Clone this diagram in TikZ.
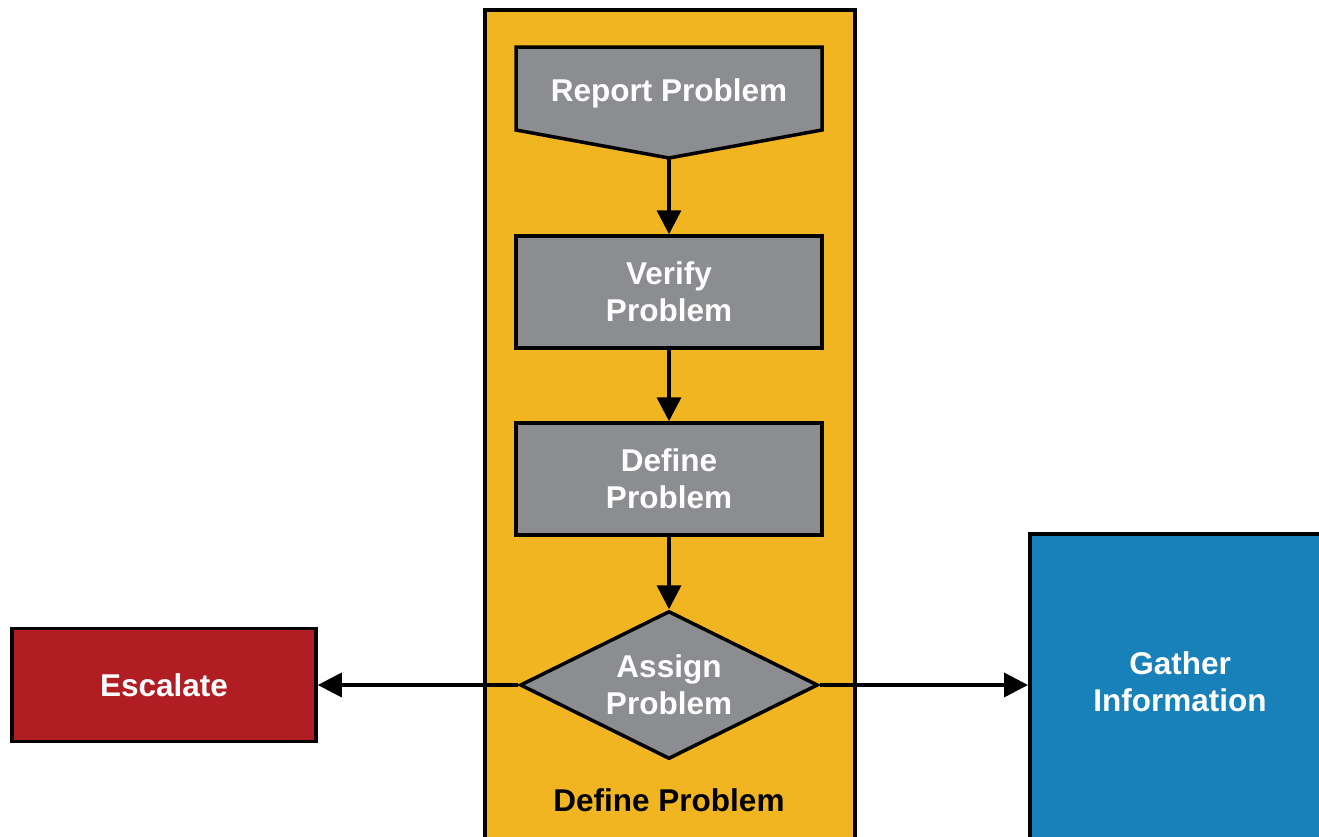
\documentclass[tikz,border=0pt]{standalone}
\usepackage{fontspec}
\setmainfont{Liberation Sans}
\usetikzlibrary{shapes.geometric,arrows.meta}
\definecolor{panelyellow}{HTML}{F0B521}
\definecolor{stepgray}{HTML}{8C8D91}
\definecolor{escred}{HTML}{B01E24}
\definecolor{gatherblue}{HTML}{1981BA}
\tikzset{
  edge/.style={draw=black, line width=3.5pt},
  stepbox/.style={draw=black, line width=3.5pt, fill=stepgray, minimum width=306pt, minimum height=112pt, inner sep=0pt},
  whitetxt/.style={text=white, font=\fontsize{31.5}{37}\selectfont\bfseries, align=center},
  flow/.style={line width=3.5pt, -{Triangle[length=24pt,width=24pt]}},
}
\begin{document}
\begin{tikzpicture}[x=1pt,y=-1pt]
\useasboundingbox (0,0) rectangle (1319,836);
% panel
\node[edge, fill=panelyellow, minimum width=370pt, minimum height=829pt, inner sep=0pt, anchor=north west] (panel) at (483,8) {};
\node[font=\fontsize{31.5}{37}\selectfont\bfseries, text=black] (panellabel) at (669,800) {Define Problem};
% report problem shape
\draw[edge, fill=stepgray, line join=miter] (516,47) -- (822,47) -- (822,130) -- (669,158) -- (516,130) -- cycle;
\coordinate (rptip) at (669,158);
\node[whitetxt] (report) at (669,93) {Report Problem};
% steps
\node[stepbox, whitetxt] (verify) at (669,292) {Verify\\Problem};
\node[stepbox, whitetxt] (define) at (669,479) {Define\\Problem};
\node[diamond, shape aspect=2, draw=black, line width=3.5pt, fill=stepgray, minimum width=298pt, minimum height=148pt, inner sep=0pt, whitetxt] (assign) at (669,685) {Assign\\Problem};
% side boxes
\node[draw=black, line width=3.5pt, fill=escred, minimum width=304pt, minimum height=113pt, inner sep=0pt, whitetxt] (escalate) at (164,685) {Escalate};
\node[draw=black, line width=3.5pt, fill=gatherblue, minimum width=300pt, minimum height=310pt, inner sep=0pt, anchor=north west] (gather) at (1028,532) {};
\node[whitetxt] (gathertxt) at (1180,682) {Gather\\Information};
% connectors
\draw[flow] (rptip) -- (verify.north);
\draw[flow] (verify.south) -- (define.north);
\draw[flow] (define.south) -- (assign.north);
\draw[flow] (assign.west) -- (escalate.east);
\draw[flow] (assign.east) -- (gather.west |- assign.east);
\end{tikzpicture}
\end{document}
